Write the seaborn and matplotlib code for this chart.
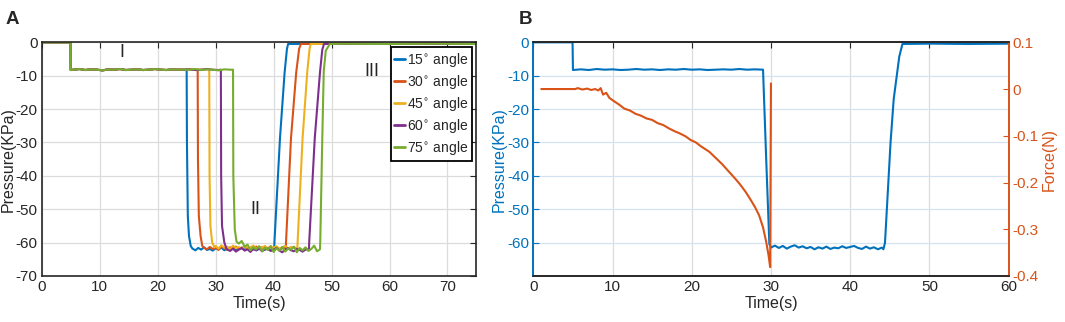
import numpy as np
import pandas as pd
import matplotlib
matplotlib.use("Agg")
import matplotlib.pyplot as plt
import seaborn as sns

# ---- panel A: pressure vs time for five bending angles ----
angles = ["15", "30", "45", "60", "75"]
colors = ["#0072BD", "#D95319", "#EDB120", "#7E2F8E", "#77AC30"]

# shared start (atmospheric, then -8 kPa hold) and shared end
t_head = [0, 4.95, 5.0]
p_head = [0, 0, -8.3]
t_flat = [5.5, 6.5, 7.5, 8.5, 9.5, 10.5, 11.5, 12.5, 13.5, 14.5,
          15.5, 16.5, 17.5, 18.5, 19.5, 20.5, 21.5, 22.5, 23.5, 24.5]
p_flat = [-8.2, -8.0, -8.3, -8.1, -8.2, -8.4, -8.1, -8.2, -8.0, -8.3,
          -8.2, -8.1, -8.3, -8.2, -8.0, -8.2, -8.3, -8.1, -8.2, -8.2]
t_tail = [52, 60, 68, 75]
p_tail = [-0.4, -0.5, -0.4, -0.5]

# 15 deg
t15 = [25.0, 25.05, 25.2, 25.4, 25.7, 26.0,
       26.5, 27.0, 27.5, 28.0, 28.5, 29.0, 29.5, 30.0, 30.5, 31.0, 31.5, 32.0, 32.5, 33.0,
       33.5, 34.0, 34.5, 35.0, 35.5, 36.0, 36.5, 37.0, 37.5, 38.0, 38.5, 39.0, 39.5,
       40.1, 40.15, 41.1, 41.9, 42.3, 42.5]
p15 = [-8.2, -30, -52, -58, -61, -61.8,
       -62.3, -61.6, -62.1, -61.4, -62.2, -61.9, -62.4, -61.7, -62.0, -61.5, -62.3, -61.8, -62.1, -61.6,
       -62.4, -61.9, -61.5, -62.2, -61.8, -62.0, -61.6, -62.3, -61.9, -61.7, -62.1, -61.8, -62.2,
       -61.6, -59.6, -28.7, -9.0, -2.0, -0.5]
# 30 deg
t30 = [25.5, 26.5, 26.9, 26.95, 27.1, 27.4, 27.7, 28.0,
       28.5, 29.0, 29.5, 30.0, 30.5, 31.0, 31.5, 32.0, 32.5, 33.0, 33.5, 34.0, 34.5, 35.0,
       35.5, 36.0, 36.5, 37.0, 37.5, 38.0, 38.5, 39.0, 39.5, 40.0, 40.5, 41.0, 41.5,
       42.1, 42.15, 43.0, 43.9, 44.4, 44.7]
p30 = [-8.1, -8.3, -8.2, -35, -52, -58, -61, -61.6,
       -62.0, -61.3, -61.9, -61.5, -62.2, -61.0, -61.7, -62.1, -61.4, -61.8, -61.2, -62.0, -61.6,
       -61.3, -61.9, -61.5, -62.1, -61.2, -61.7, -61.4, -62.0, -61.6, -61.3, -61.9, -61.5, -62.2, -61.7,
       -61.5, -59.6, -28.7, -9.0, -2.0, -0.5]
# 45 deg
t45 = [25.5, 26.5, 27.5, 28.5, 28.9, 28.95, 29.1, 29.4, 29.8,
       30.0, 30.5, 31.0, 31.5, 32.0, 32.5, 33.0, 33.5, 34.0, 34.5, 35.0, 35.5, 36.0, 36.5,
       37.0, 37.5, 38.0, 38.5, 39.0, 39.5, 40.0, 40.5, 41.0, 41.5, 42.0, 42.5, 43.0, 43.5,
       44.1, 44.15, 45.0, 45.8, 46.2, 46.4]
p45 = [-8.1, -8.3, -8.2, -8.1, -8.2, -40, -55, -60, -61.4,
       -61.0, -61.8, -60.8, -61.5, -61.2, -62.0, -60.9, -61.6, -61.3, -61.9, -61.0, -61.7, -61.4, -60.9,
       -61.8, -61.2, -61.6, -61.0, -61.9, -61.3, -61.5, -61.1, -61.8, -61.4, -61.0, -61.7, -61.3, -61.6,
       -61.5, -59.6, -28.7, -9.0, -2.0, -0.5]
# 60 deg
t60 = [25.5, 26.5, 27.5, 28.5, 29.5, 30.5, 30.9, 30.95, 31.1, 31.5, 31.9,
       32.5, 33.0, 33.5, 34.0, 34.5, 35.0, 35.5, 36.0, 36.5, 37.0, 37.5, 38.0, 38.5, 39.0,
       39.5, 40.0, 40.5, 41.0, 41.5, 42.0, 42.5, 43.0, 43.5, 44.0, 44.5, 45.0, 45.5,
       46.1, 46.15, 47.1, 48.0, 48.4, 48.7]
p60 = [-8.1, -8.3, -8.2, -8.0, -8.2, -8.3, -8.2, -40, -55, -60, -62.0,
       -62.5, -61.8, -62.7, -62.1, -61.6, -62.4, -62.0, -62.8, -61.9, -62.3, -61.7, -62.6, -62.0, -61.8,
       -62.5, -62.2, -61.6, -62.4, -62.9, -62.0, -61.7, -62.3, -62.6, -61.9, -62.2, -62.7, -62.1,
       -62.0, -59.6, -28.7, -9.0, -2.2, -0.5]
# 75 deg
t75 = [25.5, 26.5, 27.5, 28.5, 29.5, 30.5, 31.5, 32.5, 33.0, 33.05, 33.3, 33.6,
       34.0, 34.5, 35.0, 35.5, 36.0, 36.5, 37.0, 37.5, 38.0, 38.5, 39.0, 39.5, 40.0, 40.5,
       41.0, 41.5, 42.0, 42.5, 43.0, 43.5, 44.0, 44.5, 45.0, 45.5, 46.0, 46.5, 47.0, 47.5,
       48.0, 48.05, 48.4, 48.65, 49.0, 49.7]
p75 = [-8.2, -8.0, -8.3, -8.1, -8.2, -8.4, -8.1, -8.2, -8.2, -40, -56, -59.7,
       -60.3, -59.5, -61.2, -60.6, -62.3, -61.4, -62.0, -61.1, -62.6, -61.5, -62.2, -61.0, -62.8, -61.7,
       -62.4, -61.3, -62.7, -61.8, -62.1, -61.2, -62.9, -61.6, -62.3, -61.4, -62.5, -61.9, -60.9, -62.6,
       -62.0, -59.6, -28.7, -8.7, -2.5, -0.5]

series_t = [t15, t30, t45, t60, t75]
series_p = [p15, p30, p45, p60, p75]

# ---- panel B: pressure and force during one grasp ----
tb = [0, 4.95, 5.0, 6, 7, 8, 9, 10, 11, 12, 13, 14, 15, 16, 17, 18, 19, 20, 21, 22, 23,
      24, 25, 26, 27, 28, 29.0, 29.4, 29.8,
      30.0, 30.5, 31.0, 31.5, 32.0, 32.5, 33.0, 33.5, 34.0, 34.5, 35.0, 35.5, 36.0, 36.5,
      37.0, 37.5, 38.0, 38.5, 39.0, 39.5, 40.0, 40.5, 41.0, 41.5, 42.0, 42.5, 43.0, 43.5, 44.0,
      44.2, 44.4, 45.1, 45.5, 46.2, 46.6, 50, 55, 60]
pb = [0, 0, -8.3, -8.1, -8.3, -8.0, -8.2, -8.1, -8.3, -8.2, -8.0, -8.2, -8.1, -8.3, -8.1, -8.2,
      -8.0, -8.2, -8.1, -8.3, -8.2, -8.1, -8.2, -8.0, -8.2, -8.1, -8.2, -35, -60.5,
      -61.5, -60.9, -61.6, -61.0, -61.8, -61.2, -60.8, -61.5, -61.1, -61.7, -61.3, -62.0, -61.4, -61.8,
      -61.2, -61.9, -61.5, -61.7, -61.1, -61.6, -61.3, -61.0, -61.6, -61.9, -61.2, -61.8, -61.4, -62.0, -61.5,
      -62.0, -60.0, -30.0, -17.0, -4.3, -0.5, -0.4, -0.5, -0.4]

tf = [1.0, 3.0, 5.3, 5.6, 6.2, 6.8, 7.3, 7.8, 8.2, 8.5, 8.8, 9.2, 9.6, 10.1, 10.8, 11.5,
      12.2, 12.9, 13.6, 14.3, 15.0, 15.7, 16.4, 17.1, 17.8, 18.5, 19.2, 19.85, 20.5, 21.2,
      22.2, 23.0, 23.8, 24.7, 25.4, 26.1, 26.8, 27.4, 28.0, 28.5, 29.0, 29.4, 29.7, 29.9, 30.0]
force = [0.0, 0.0, 0.0, 0.002, -0.001, 0.001, -0.002, 0.0, -0.003, 0.002, -0.012, -0.008,
         -0.019, -0.025, -0.033, -0.042, -0.046, -0.053, -0.057, -0.063, -0.066, -0.073,
         -0.077, -0.084, -0.090, -0.095, -0.101, -0.109, -0.114, -0.123, -0.134, -0.147,
         -0.160, -0.177, -0.190, -0.204, -0.220, -0.236, -0.253, -0.270, -0.296, -0.327,
         -0.356, -0.381, 0.012]

sns.set_style("white")
plt.rcParams["font.family"] = ["Liberation Sans", "DejaVu Sans"]
plt.rcParams["axes.unicode_minus"] = False

fig = plt.figure(figsize=(10.65, 3.22), dpi=100)
ax_a = fig.add_axes([0.0392, 0.1429, 0.4082, 0.7257])
ax_b = fig.add_axes([0.5008, 0.1429, 0.4462, 0.7257])

axis_col = "#262626"
blue = "#0072BD"
orange = "#D95319"

# panel A
for ang, col, t, p in zip(angles, colors, series_t, series_p):
    df = pd.DataFrame({"time": t_head + t_flat + t + t_tail,
                       "pressure": p_head + p_flat + p + p_tail})
    sns.lineplot(data=df, x="time", y="pressure", ax=ax_a, color=col, lw=1.5,
                 estimator=None, sort=False, label=ang + "$^{\\circ}$ angle")

ax_a.set_xlim(0, 75)
ax_a.set_ylim(-70, 0)
ax_a.set_xticks(range(0, 71, 10))
ax_a.set_yticks(range(-70, 1, 10))
ax_a.grid(True, color="#dcdcdc", lw=0.9)
ax_a.set_xlabel("Time(s)", fontsize=11.5, labelpad=1)
ax_a.set_ylabel("Pressure(KPa)", fontsize=11.5, labelpad=0)
ax_a.tick_params(direction="in", top=True, right=True, labelsize=11, length=4,
                 color=axis_col, pad=3)
for s in ax_a.spines.values():
    s.set_color(axis_col)
    s.set_linewidth(1.2)
ax_a.text(13.9, -3.0, "I", fontsize=13, ha="center", va="center")
ax_a.text(36.9, -50, "II", fontsize=13, ha="center", va="center")
ax_a.text(57.0, -8.6, "III", fontsize=13, ha="center", va="center")

leg = ax_a.legend(loc="upper right", fontsize=10, frameon=True, fancybox=False,
                  framealpha=1, edgecolor="black", handlelength=0.8, handletextpad=0.1,
                  labelspacing=0.3, borderpad=0.25, borderaxespad=0.35)
leg.get_frame().set_linewidth(1.3)
for h in leg.get_lines():
    h.set_linewidth(2)

# panel B
sns.lineplot(x=tb, y=pb, ax=ax_b, color=blue, lw=1.5, estimator=None, sort=False)
ax_b.set_xlim(0, 60)
ax_b.set_ylim(-70, 0)
ax_b.set_xticks(range(0, 61, 10))
ax_b.set_yticks(range(-60, 1, 10))
ax_b.xaxis.grid(True, color="#dcdcdc", lw=0.9)
ax_b.yaxis.grid(True, color="#d4e3ef", lw=0.9)
ax_b.set_xlabel("Time(s)", fontsize=11.5, labelpad=1)
ax_b.set_ylabel("Pressure(KPa)", fontsize=11.5, color=blue, labelpad=0)
ax_b.tick_params(axis="x", direction="in", top=True, labelsize=11, length=4,
                 color=axis_col, pad=3)
ax_b.tick_params(axis="y", direction="in", labelsize=11, length=4, color=blue,
                 labelcolor=blue, pad=3)

ax2 = ax_b.twinx()
sns.lineplot(x=tf, y=force, ax=ax2, color=orange, lw=1.5, estimator=None, sort=False)
ax2.set_ylim(-0.4, 0.1)
force_ticks = [-0.4, -0.3, -0.2, -0.1, 0.0, 0.1]
ax2.set_yticks(force_ticks)
ax2.set_yticklabels(["-0.4", "-0.3", "-0.2", "-0.1", "0", "0.1"])
ax2.set_ylabel("Force(N)", fontsize=11.5, color=orange, labelpad=2)
ax2.tick_params(axis="y", direction="in", labelsize=11, length=4, color=orange,
                labelcolor=orange, pad=3)
ax2.grid(False)

for a in (ax_b, ax2):
    for k, s in a.spines.items():
        s.set_linewidth(1.2)
        s.set_color(axis_col)
    a.spines["left"].set_color(blue)
    a.spines["right"].set_color(orange)

fig.text(0.005, 0.965, "A", fontsize=13.5, fontweight="bold", va="top")
fig.text(0.487, 0.965, "B", fontsize=13.5, fontweight="bold", va="top")

fig.savefig("out.png", dpi=100)
